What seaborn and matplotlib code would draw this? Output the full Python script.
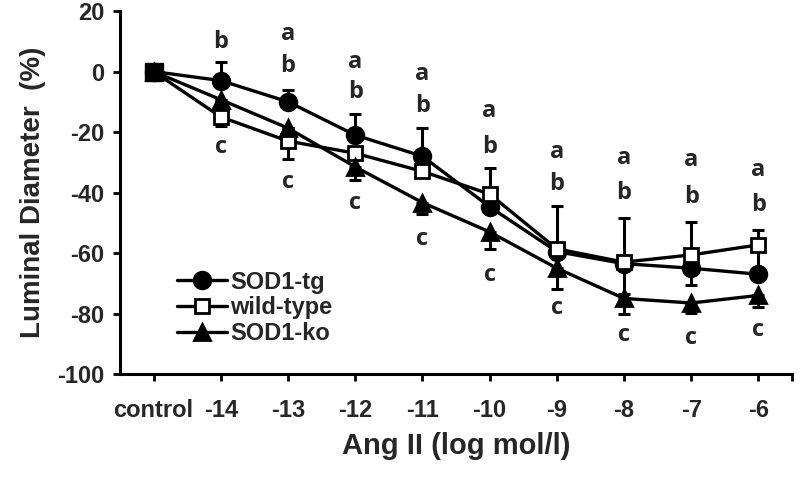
import numpy as np
import pandas as pd
import seaborn as sns
import matplotlib.pyplot as plt

# categories on the x axis
doses = ["control", "-14", "-13", "-12", "-11", "-10", "-9", "-8", "-7", "-6"]

# luminal diameter change (%)
sod1_tg = [0, -3, -10, -21, -28, -44.7, -59.5, -63.5, -65, -67]
wild_type = [0, -15, -23, -27, -33, -40.5, -58.6, -63, -60.6, -57.3]
sod1_ko = [0, -9.3, -18.7, -31.5, -43.3, -53, -65, -75, -76.5, -74]

# one-sided error bars
tg_up = [0, 6, 4, 7, 9.5, 0, 0, 0, 0, 9]
tg_dn = [0, 0, 0, 0, 0, 0, 0, 10, 5.5, 0]
wt_up = [0, 0, 0, 0, 0, 8.7, 14.2, 14.5, 11, 5]
wt_dn = [0, 3, 6, 0, 0, 0, 0, 0, 0, 0]
ko_up = [0] * 10
ko_dn = [0, 0, 0, 4.5, 3.7, 5.5, 7, 5, 3.3, 3.7]

# significance letters (y position in data units, None = no letter)
letter_a = [None, None, 12.3, 3.3, -0.7, -13.2, -26.5, -28.5, -29.1, -32.5]
letter_b = [None, 9.9, 1.7, -6.6, -11.3, -24.8, -37.1, -40, -41.4, -44]
letter_c = [None, -24.8, -36.4, -43.4, -55.3, -67.2, -78.1, -87.1, -88.1, -85.4]

yticks = [20, 0, -20, -40, -60, -80, -100]

sns.set_style("ticks")
plt.rcParams['font.family'] = ['Liberation Sans', 'DejaVu Sans']
plt.rcParams['font.weight'] = 'bold'

x = np.arange(len(doses))
df = pd.DataFrame({"x": x, "tg": sod1_tg, "wt": wild_type, "ko": sod1_ko})

fig = plt.figure(figsize=(8, 4.79), dpi=100)
ax = fig.add_axes([0.15, 0.219, 0.84, 0.758])

series = [
    ("tg", "SOD1-tg", "o", 12, "black", tg_up, tg_dn),
    ("wt", "wild-type", "s", 10, "white", wt_up, wt_dn),
    ("ko", "SOD1-ko", "^", 12, "black", ko_up, ko_dn),
]

for col, lab, mk, ms, fc, up, dn in series:
    ax.errorbar(df["x"], df[col], yerr=[dn, up], fmt="none", ecolor="black",
                elinewidth=2.2, capsize=4.5, capthick=2.2, zorder=2)
    sns.lineplot(data=df, x="x", y=col, ax=ax, color="black", lw=2.4,
                 marker=mk, markersize=ms, markerfacecolor=fc,
                 markeredgecolor="black", markeredgewidth=2,
                 label=lab, zorder=3)

# control point drawn as filled square
ax.plot([0], [0], marker="s", markersize=13, color="black", zorder=5)

for i in range(len(doses)):
    for lst, t in [(letter_a, "a"), (letter_b, "b"), (letter_c, "c")]:
        if lst[i] is not None:
            ax.text(x[i], lst[i], t, ha="center", va="center", fontsize=17,
                    fontweight="bold", family=["Open Sans", "DejaVu Sans"])

ax.set_xlim(-0.5, 9.5)
ax.set_ylim(-100, 20)
ax.set_xticks(x)
ax.set_xticklabels(doses, fontsize=17, fontweight="bold")
ax.set_xticks([9.5], minor=True)
ax.set_yticks(yticks)
ax.set_yticklabels([str(v) for v in yticks], fontsize=17, fontweight="bold")
ax.tick_params(axis="both", which="both", width=2, length=5, color="black")
ax.tick_params(axis="x", pad=13)
ax.tick_params(axis="y", pad=6)

for s in ["top", "right"]:
    ax.spines[s].set_visible(False)
for s in ["left", "bottom"]:
    ax.spines[s].set_linewidth(2.2)
    ax.spines[s].set_color("black")

ax.set_xlabel("Ang II (log mol/l)", fontsize=21, fontweight="bold", labelpad=7)
ax.set_ylabel("Luminal Diameter  (%)", fontsize=20, fontweight="bold", labelpad=8)

ax.legend(loc="upper left", bbox_to_anchor=(0.085, 0.285), frameon=False,
          handlelength=2.1, handletextpad=0.15, labelspacing=0.12,
          borderpad=0, borderaxespad=0, prop={"weight": "bold", "size": 17})

fig.savefig("out.png", dpi=100)
